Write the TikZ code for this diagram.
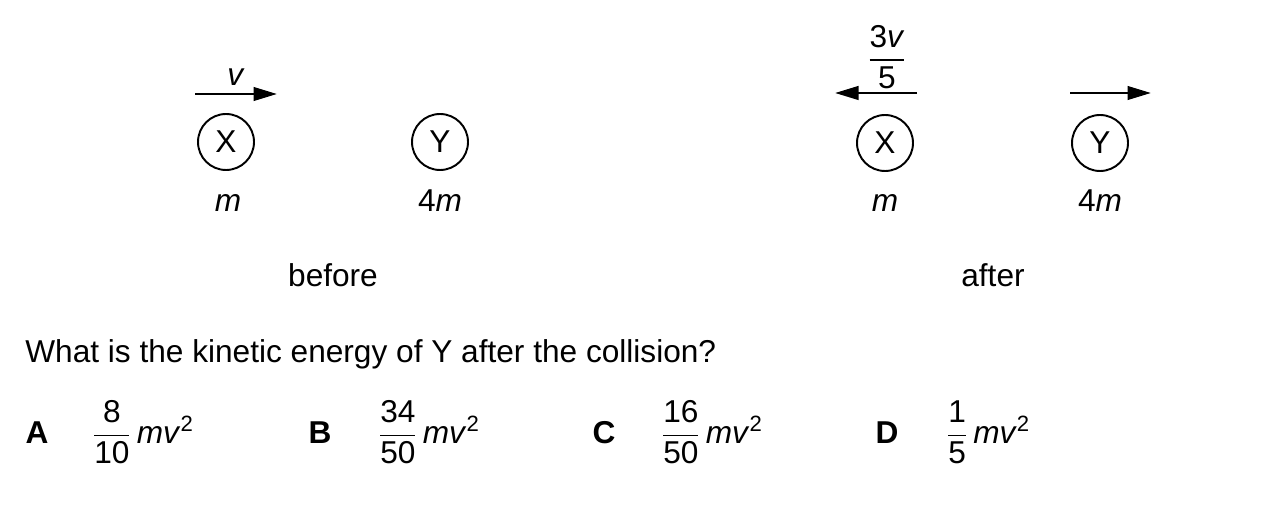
\documentclass[tikz,border=0pt]{standalone}
\usepackage{amsmath}
\usepackage{fontspec}
\setmainfont{Liberation Sans}
\usetikzlibrary{arrows.meta}

\newcommand{\frc}[2]{$\displaystyle{\mbox{#1}\above0.9pt\mbox{#2}}$}
\newcommand{\kin}{\,\textit{mv}\textsuperscript{2}}

\tikzset{
  ball/.style={draw,circle,line width=1.1pt,minimum size=1.12cm,inner sep=0pt},
  vel/.style={line width=1.5pt,-{Triangle[length=0.47cm,width=0.27cm]}},
  mass/.style={anchor=base},
  choice/.style={anchor=base,font=\fontsize{18}{21}\selectfont\bfseries},
  answer/.style={anchor=base west}
}

\begin{document}
\begin{tikzpicture}[x=0.02cm,y=-0.02cm,font=\fontsize{18}{21}\selectfont]
\useasboundingbox (0,0) rectangle (1278,520);

% before
\node[ball] (Xb) at (226,142) {X};
\node[ball] (Yb) at (440,142) {Y};
\node[mass] (mXb) at (228,212) {\textit{m}};
\node[mass] (mYb) at (440,212) {4\textit{m}};
\node[anchor=base] (before) at (333,287) {before};
\coordinate (vbS) at (195,94);
\coordinate (vbE) at (277,94);
\draw[vel] (vbS)--(vbE) node [above,midway,yshift=1pt] {\textit{v}};

% after
\node[ball] (Xa) at (885,143) {X};
\node[ball] (Ya) at (1100,143) {Y};
\node[mass] (mXa) at (885,212) {\textit{m}};
\node[mass] (mYa) at (1100,212) {4\textit{m}};
\node[anchor=base] (after) at (993,287) {after};
\coordinate (vxS) at (917,93);
\coordinate (vxE) at (835,93);
\draw[vel] (vxS)--(vxE);
\node (vx) at (887,57) {\frc{3\textit{v}}{5}};
\coordinate (vyS) at (1070,93);
\coordinate (vyE) at (1151,93);
\draw[vel] (vyS)--(vyE);

% question
\node[anchor=base west,inner sep=0pt] (q) at (25,362) {What is the kinetic energy of Y after the collision?};

\node[choice] (A) at (37,443) {A};
\node[answer] (ansA) at (86,443) {\frc{8}{10}\kin};
\node[choice] (B) at (320,443) {B};
\node[answer] (ansB) at (372,443) {\frc{34}{50}\kin};
\node[choice] (C) at (604,443) {C};
\node[answer] (ansC) at (655,443) {\frc{16}{50}\kin};
\node[choice] (D) at (887,443) {D};
\node[answer] (ansD) at (940,443) {\frc{1}{5}\kin};

\end{tikzpicture}
\end{document}
